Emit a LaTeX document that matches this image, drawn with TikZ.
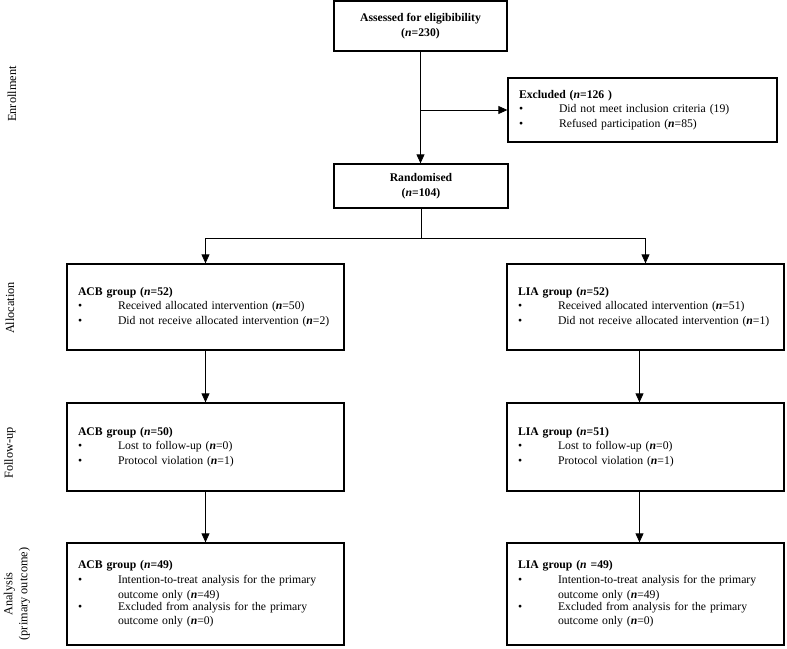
\documentclass[tikz,border=0pt]{standalone}
\usepackage{fontspec}
\setmainfont{Liberation Serif}
\usetikzlibrary{arrows.meta}

\newcommand{\bitem}[1]{\par\noindent\makebox[40pt][l]{\textbullet}\parbox[t]{\dimexpr\hsize-40pt\relax}{\raggedright #1}}
\newcommand{\nn}{\textbf{\textit{n}}}
\newcommand{\boxfont}{\fontsize{11.7}{14.8}\selectfont\hyphenpenalty=10000\relax\exhyphenpenalty=10000\relax}

\tikzset{
  box/.style={draw, line width=1.3pt, inner sep=0pt, font=\boxfont},
  listbox/.style={box, align=left},
  arr/.style={line width=0.8pt, -{Triangle[length=9pt,width=8pt]}},
  link/.style={line width=0.8pt},
  stage/.style={rotate=90, font=\fontsize{12.3}{15}\selectfont, align=center}
}

\begin{document}
\begin{tikzpicture}[x=1pt,y=-1pt]
\useasboundingbox (0,0) rectangle (787,648);

% Enrollment
\node[box, align=center, minimum width=173pt, minimum height=50pt] (assess) at (420.5,26)
  {\textbf{Assessed for eligibibility}\\\textbf{(\textit{n}=230)}};
\node[listbox, minimum width=269pt, minimum height=64pt, text width=247pt] (excl) at (642.5,110)
  {\textbf{Excluded (\textit{n}=126 )}
   \bitem{Did not meet inclusion criteria (19)}
   \bitem{Refused participation (\nn=85)}};
\node[box, align=center, minimum width=174pt, minimum height=44pt] (rand) at (421,186)
  {\textbf{Randomised}\\\textbf{(\textit{n}=104)}};

% Allocation
\node[listbox, minimum width=277pt, minimum height=86pt, text width=255pt] (acbA) at (205.5,307)
  {\textbf{ACB group (\textit{n}=52)}
   \bitem{Received allocated intervention (\nn=50)}
   \bitem{Did not receive allocated intervention (\nn=2)}};
\node[listbox, minimum width=277pt, minimum height=86pt, text width=255pt] (liaA) at (645.5,307)
  {\textbf{LIA group (\textit{n}=52)}
   \bitem{Received allocated intervention (\nn=51)}
   \bitem{Did not receive allocated intervention (\nn=1)}};

% Follow-up
\node[listbox, minimum width=277pt, minimum height=88pt, text width=255pt] (acbF) at (205.5,447)
  {\textbf{ACB group (\textit{n}=50)}
   \bitem{Lost to follow-up (\nn=0)}
   \bitem{Protocol violation (\nn=1)}};
\node[listbox, minimum width=277pt, minimum height=88pt, text width=255pt] (liaF) at (645.5,447)
  {\textbf{LIA group (\textit{n}=51)}
   \bitem{Lost to follow-up (\nn=0)}
   \bitem{Protocol violation (\nn=1)}};

% Analysis
\node[listbox, minimum width=277pt, minimum height=102pt, text width=255pt] (acbN) at (205.5,594)
  {\textbf{ACB group (\textit{n}=49)}
   \bitem{Intention-to-treat analysis for the primary outcome only (\nn=49)}
   \bitem{Excluded from analysis for the primary outcome only (\nn=0)}};
\node[listbox, minimum width=277pt, minimum height=102pt, text width=255pt] (liaN) at (645.5,594)
  {\textbf{LIA group (\textit{n} =49)}
   \bitem{Intention-to-treat analysis for the primary outcome only (\nn=49)}
   \bitem{Excluded from analysis for the primary outcome only (\nn=0)}};

% Stage labels
\node[stage] (sEnr) at (12,94) {Enrollment};
\node[stage] (sAll) at (10,308) {Allocation};
\node[stage] (sFol) at (10,453) {Follow-up};
\node[stage] (sAna) at (17,594) {Analysis\\(primary outcome)};

% Connectors
\coordinate (jn) at (assess.south |- excl.west);
\coordinate (split) at (421,238);
\draw[arr] (assess.south) -- (assess.south |- rand.north);
\draw[arr] (jn) -- (excl.west);
\draw[link] (rand.south) -- (split);
\draw[arr] (split) -| (acbA.north);
\draw[arr] (split) -| (liaA.north);
\draw[arr] (acbA) -- (acbF);
\draw[arr] (acbF) -- (acbN);
\draw[arr] ([xshift=-6pt]liaA.south) -- ([xshift=-6pt]liaF.north);
\draw[arr] ([xshift=-6pt]liaF.south) -- ([xshift=-6pt]liaN.north);
\end{tikzpicture}
\end{document}
